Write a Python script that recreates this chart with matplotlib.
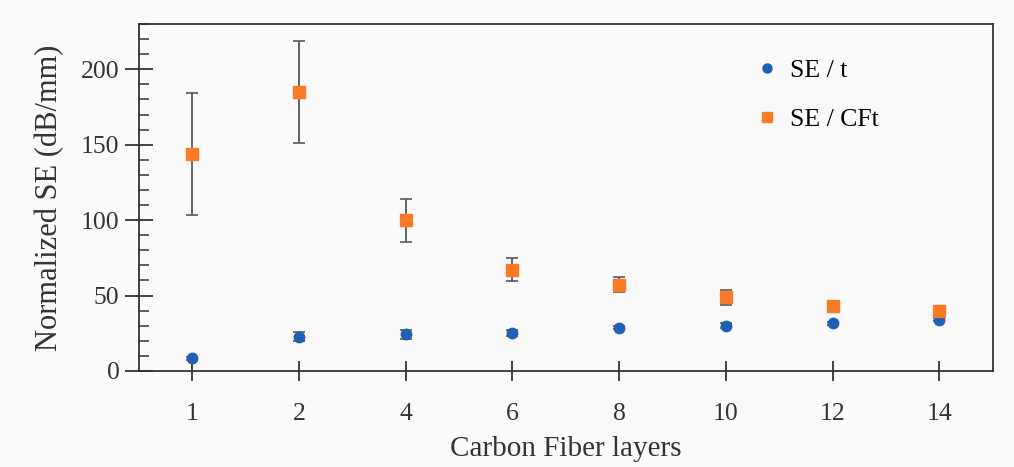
"""Normalized shielding effectiveness vs number of carbon fiber layers."""

import matplotlib

matplotlib.use("Agg")
import matplotlib.pyplot as plt
from matplotlib.ticker import MultipleLocator

layers = ["1", "2", "4", "6", "8", "10", "12", "14"]

se_t = [8.6, 22.7, 24.3, 25.0, 28.5, 30.0, 31.6, 34.0]
se_t_err = [1.0, 3.0, 3.0, 2.0, 1.0, 1.5, 1.0, 1.0]

se_cft = [144.0, 184.8, 99.8, 67.1, 57.2, 49.0, 43.0, 39.5]
se_cft_err = [40.5, 34.0, 14.0, 7.7, 5.0, 5.0, 2.5, 1.0]

BLUE = "#1f5fb4"
ORANGE = "#fb7a26"
TXT = "#333333"
BG = "#fafafa"


def main() -> None:
    plt.rcParams["font.family"] = ["Liberation Serif", "DejaVu Serif"]

    fig = plt.figure(figsize=(10.14, 4.67), dpi=100, facecolor=BG)
    ax = fig.add_axes([0.137, 0.2056, 0.842, 0.743], facecolor=BG)

    x = list(range(len(layers)))
    err_kw = dict(ecolor="#5a5a5a", elinewidth=1.3, capsize=4, capthick=1.2,
                  linestyle="none", marker="none", zorder=2)
    ax.errorbar(x, se_t, yerr=se_t_err, **err_kw)
    ax.errorbar(x, se_cft, yerr=se_cft_err, **err_kw)
    ax.plot(x, se_t, "o", ms=7.5, color=BLUE, label="SE / t", zorder=3)
    ax.plot(x, se_cft, "s", ms=8.5, color=ORANGE, label="SE / CFt", zorder=3)

    ax.set_xlim(-0.5, len(layers) - 0.5)
    ax.set_ylim(0, 230)
    ax.set_xticks(x)
    ax.set_xticklabels(layers)
    ax.yaxis.set_major_locator(MultipleLocator(50))
    ax.yaxis.set_minor_locator(MultipleLocator(10))

    for side in ax.spines.values():
        side.set_color(TXT)
        side.set_linewidth(1.3)

    ax.tick_params(axis="x", which="major", direction="inout", length=14, width=1.3,
                   color=TXT, labelcolor=TXT, labelsize=18.5, pad=16)
    ax.tick_params(axis="y", which="major", direction="inout", length=20, width=1.3,
                   color=TXT, labelcolor=TXT, labelsize=18.5, pad=4)
    ax.tick_params(axis="y", which="minor", direction="in", length=7, width=1.1,
                   color=TXT)

    ax.set_xlabel("Carbon Fiber layers", fontsize=21, color=TXT, labelpad=8)
    ax.set_ylabel("Normalized SE (dB/mm)", fontsize=22, color=TXT, labelpad=12)

    leg = ax.legend(loc="upper left", bbox_to_anchor=(0.69, 0.965), frameon=False,
                    fontsize=18.5, labelspacing=1.0, handletextpad=0.3, handlelength=1.2)
    for h in leg.legend_handles:
        h.set_markersize(6.5)

    fig.savefig("out.png", dpi=100, facecolor=BG)


if __name__ == "__main__":
    main()
